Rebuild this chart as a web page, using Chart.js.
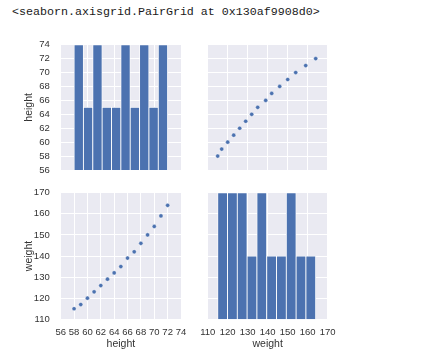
<!DOCTYPE html>
<html><head><meta charset="utf-8">
<script src="https://cdn.jsdelivr.net/npm/chart.js@4/dist/chart.umd.min.js"></script>
<style>
html,body{margin:0;padding:0;background:#fff;width:431px;height:357px;overflow:hidden}
#title{position:absolute;left:12px;top:5px;font-family:"Liberation Mono","DejaVu Sans Mono",monospace;font-size:11.67px;line-height:14px;color:#1a1a1a;white-space:pre}
canvas{position:absolute;left:0;top:0}
</style></head><body>
<div id="title">&lt;seaborn.axisgrid.PairGrid at 0x130af9908d0&gt;</div>
<canvas id="c00" width="431" height="357"></canvas>
<canvas id="c01" width="431" height="357"></canvas>
<canvas id="c10" width="431" height="357"></canvas>
<canvas id="c11" width="431" height="357"></canvas>
<script>
// ---- data ----
const heights = [58,59,60,61,62,63,64,65,66,67,68,69,70,71,72];
const weights = [115,117,120,123,126,129,132,135,139,142,146,150,154,159,164];
const heightBinEdges = [58,59.4,60.8,62.2,63.6,65,66.4,67.8,69.2,70.6,72];
const heightCounts = [2,1,2,1,1,2,1,2,1,2];
const weightBinEdges = [115,119.9,124.8,129.7,134.6,139.5,144.4,149.3,154.2,159.1,164];
const weightCounts = [2,2,2,1,2,1,1,2,1,1];
const heightTicks = [56,58,60,62,64,66,68,70,72,74];
const weightTicks = [110,120,130,140,150,160,170];
const varNames = ['height','weight'];

// ---- layout ----
const colX = [[60.7,181],[207.7,327.7]];
const rowY = [[44.7,170],[192.7,319.3]];
const W = 431, H = 357, LEFT_PAD = 16;
const BLUE = '#4C72B0';
const tickColor = '#333';
const fam = '"Liberation Sans", Arial, sans-serif';

const bg = { id:'bg', beforeDraw(chart){ const {ctx, chartArea:a} = chart; ctx.save(); ctx.fillStyle='#EAEAF2'; ctx.fillRect(a.left,a.top,a.right-a.left,a.bottom-a.top); ctx.restore(); } };

const vars = {
  height: {vals: heights, edges: heightBinEdges, counts: heightCounts, ticks: heightTicks, step: 2},
  weight: {vals: weights, edges: weightBinEdges, counts: weightCounts, ticks: weightTicks, step: 10}
};
function makePanel(row, col){
  const xv = vars[varNames[col]], yv = vars[varNames[row]];
  const diag = row === col;
  let datasets;
  if (diag) {
    const d = xv.counts.map((c,i)=>({x:(xv.edges[i]+xv.edges[i+1])/2, y:c}));
    datasets = [{type:'bar', data:d, yAxisID:'yc', backgroundColor:BLUE, borderColor:'#ffffff', borderWidth:0.8, barPercentage:1, categoryPercentage:1}];
  } else {
    datasets = [{type:'scatter', data:xv.vals.map((v,i)=>({x:v, y:yv.vals[i]})), backgroundColor:BLUE, borderColor:'#ffffff', borderWidth:0.4, pointRadius:2.1}];
  }
  const showY = col === 0, showX = row === 1;
  const scales = {
    x: {type:'linear', position:'bottom', offset:false, min:xv.ticks[0], max:xv.ticks[xv.ticks.length-1],
        ticks:{display:showX, stepSize:xv.step, color:tickColor, font:{family:fam,size:9.5}, padding:7, maxRotation:0, autoSkip:false},
        grid:{color:'#ffffff', lineWidth:1, drawTicks:false, offset:false}, border:{display:false},
        title:{display:showX, text:varNames[col], color:tickColor, font:{family:fam,size:10.5}, padding:{top:0,bottom:6.7}},
        afterFit(s){ s.height = showX ? (H - rowY[row][1]) : 0; }},
    y: {type:'linear', position:'left', offset:false, min:yv.ticks[0], max:yv.ticks[yv.ticks.length-1],
        ticks:{display:showY, stepSize:yv.step, color:tickColor, font:{family:fam,size:9.5}, padding:11, autoSkip:false},
        grid:{color:'#ffffff', lineWidth:1, drawTicks:false, offset:false}, border:{display:false},
        title:{display:showY, text:varNames[row], color:tickColor, font:{family:fam,size:10.5}, padding:{top:6.7,bottom:0}},
        afterFit(s){ s.width = showY ? (colX[col][0] - LEFT_PAD) : 0; }}
  };
  if (diag) scales.yc = {type:'linear', display:false, offset:false, min:0, max:2};
  new Chart(document.getElementById('c'+row+col), {
    data:{datasets},
    options:{
      responsive:false, animation:false,
      layout:{padding:{left: showY ? LEFT_PAD : colX[col][0], right: W - colX[col][1], top: rowY[row][0], bottom: showX ? 0 : H - rowY[row][1]}},
      plugins:{legend:{display:false}, tooltip:{enabled:false}},
      scales
    },
    plugins:[bg]
  });
}
for (let r=0;r<2;r++) for (let c=0;c<2;c++) makePanel(r,c);
</script>
</body></html>
